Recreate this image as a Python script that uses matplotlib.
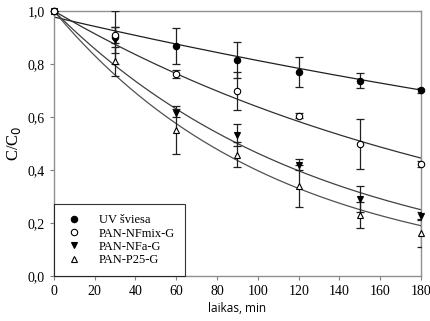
import numpy as np
import matplotlib as mpl
import matplotlib.pyplot as plt

mpl.rcParams['font.family'] = ['Liberation Serif', 'DejaVu Serif']

t = np.array([0, 30, 60, 90, 120, 150, 180])

labels = ['UV šviesa', 'PAN-NFmix-G', 'PAN-NFa-G', 'PAN-P25-G']

uv = np.array([1.0, 0.90, 0.868, 0.815, 0.77, 0.736, 0.70])
uv_err = np.array([0.0, 0.10, 0.067, 0.068, 0.056, 0.028, 0.008])

nfmix = np.array([1.0, 0.91, 0.763, 0.698, 0.605, 0.498, 0.423])
nfmix_err = np.array([0.0, 0.03, 0.015, 0.07, 0.01, 0.095, 0.012])

nfa = np.array([1.0, 0.89, 0.615, 0.532, 0.42, 0.29, 0.228])
nfa_err = np.array([0.0, 0.05, 0.015, 0.04, 0.02, 0.05, 0.015])

p25 = np.array([1.0, 0.81, 0.55, 0.457, 0.34, 0.23, 0.162])
p25_err = np.array([0.0, 0.055, 0.09, 0.047, 0.078, 0.05, 0.053])

# exponential fit lines C = c0 * exp(-k t)
fit_c0 = [0.977, 1.0, 1.0, 1.0]
fit_k = [0.00184, 0.0045, 0.0077, 0.00923]

series = [uv, nfmix, nfa, p25]
errors = [uv_err, nfmix_err, nfa_err, p25_err]
markers = ['o', 'o', 'v', '^']
faces = ['black', 'white', 'black', 'white']
line_cols = ['#202020', '#303030', '#404040', '#505050']
zorders = [4, 7, 5, 6]

fig = plt.figure(figsize=(4.31, 3.21), dpi=100)
ax = fig.add_axes([0.125, 0.14, 0.852, 0.826])

tt = np.linspace(0, 180, 200)
for c0, k, lc in zip(fit_c0, fit_k, line_cols):
    ax.plot(tt, c0 * np.exp(-k * tt), color=lc, lw=0.9, zorder=2)

handles = []
for y, e, m, fc, lab, z in zip(series, errors, markers, faces, labels, zorders):
    ax.errorbar(t, y, yerr=e, fmt='none', ecolor='#202020', elinewidth=0.9,
                capsize=2.6, capthick=0.9, zorder=3)
    h = ax.plot(t, y, linestyle='none', marker=m, ms=4.6, mfc=fc, mec='black',
                mew=0.8, zorder=z, clip_on=False, label=lab)[0]
    handles.append(h)

ax.set_xlim(0, 180)
ax.set_ylim(0, 1.0)
ax.set_xticks(np.arange(0, 181, 20))
ax.set_yticks(np.arange(0, 1.01, 0.2))
ax.set_yticklabels([f'{v:.1f}'.replace('.', ',') for v in np.arange(0, 1.01, 0.2)])
ax.tick_params(labelsize=10, direction='out', length=3, width=0.8, color='#808080')

for s in ax.spines.values():
    s.set_color('#909090')
    s.set_linewidth(1.0)

ax.set_ylabel('C/C$_0$', fontsize=12)
ax.yaxis.set_label_coords(-0.085, 0.5)
ax.set_xlabel('laikas, min', fontsize=8.5, family=['Open Sans', 'DejaVu Sans'], labelpad=3)

leg = ax.legend(handles=handles, loc='lower left', fontsize=9, frameon=True,
                fancybox=False, borderaxespad=0, handletextpad=1.2,
                handlelength=1.6, labelspacing=0.1, borderpad=0.8)
leg.get_frame().set_edgecolor('black')
leg.get_frame().set_linewidth(0.8)
for h in leg.legend_handles:
    h.set_markersize(4.6)

fig.savefig('out.png', dpi=100)
